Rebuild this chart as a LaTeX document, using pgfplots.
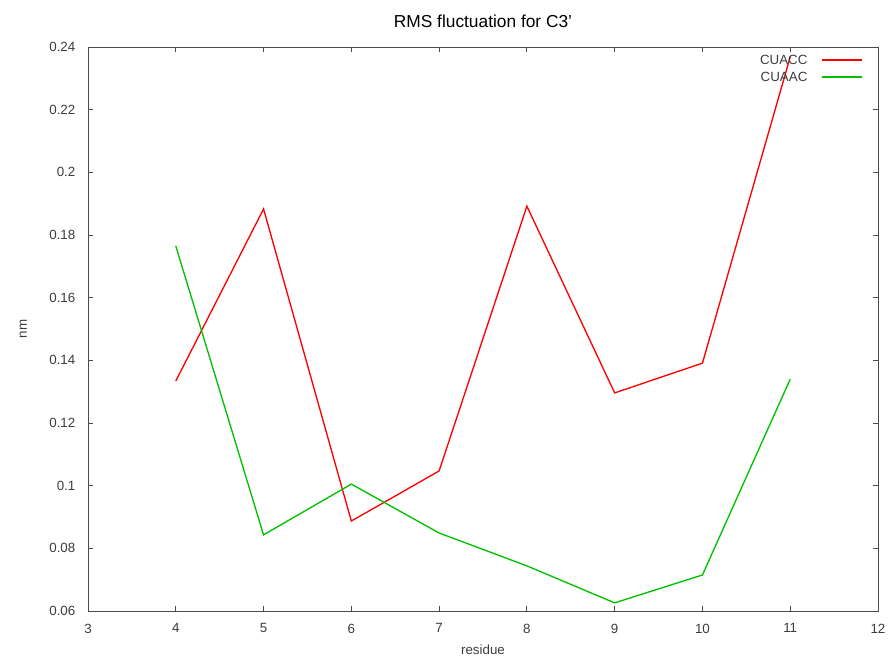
\documentclass[border=0pt]{standalone}
\usepackage{pgfplots}
\pgfplotsset{compat=1.18}
\usepackage{fontspec}
\setmainfont{Liberation Sans}
\definecolor{gpred}{RGB}{255,0,0}
\definecolor{gpgreen}{RGB}{0,192,0}
\definecolor{gptext}{RGB}{60,60,60}
\begin{document}
\begin{tikzpicture}[x=0.75pt,y=0.75pt]
\path[use as bounding box] (0,0) rectangle (889,657);
\begin{axis}[
  at={(88*0.75pt,46*0.75pt)}, anchor=south west,
  scale only axis,
  width=790*0.75pt, height=564*0.75pt,
  xmin=3, xmax=12, ymin=0.06, ymax=0.24,
  xtick={3,...,12},
  ytick={0.06,0.08,...,0.241},
  tick align=inside,
  tick style={black!70, line width=0.6pt},
  major tick length=4pt,
  axis line style={black!70, line width=0.6pt},
  yticklabel style={/pgf/number format/fixed, /pgf/number format/precision=2, xshift=-6pt},
  xticklabel style={yshift=-6pt},
  /pgf/number format/assume math mode=true,
  ticklabel style={font=\fontsize{10}{11}\selectfont, text=gptext},
  xlabel={residue}, ylabel={nm},
  xlabel style={font=\fontsize{10}{11}\selectfont, text=gptext, yshift=-2pt},
  ylabel style={font=\fontsize{10}{11}\selectfont, text=gptext, yshift=10pt},
  title={RMS fluctuation for C3'},
  title style={font=\fontsize{13}{14}\selectfont, yshift=5pt},
  clip=false,
]
\addplot[gpred, line width=1pt] coordinates {
(4,0.1334) (5,0.1883) (6,0.0887) (7,0.1047) (8,0.1892) (9,0.1296) (10,0.1391) (11,0.2368)};
\addplot[gpgreen, line width=1pt] coordinates {
(4,0.1765) (5,0.0843) (6,0.1005) (7,0.0849) (8,0.0744) (9,0.0626) (10,0.0715) (11,0.1340)};
% legend
\node[anchor=east, font=\fontsize{10}{10}\selectfont, text=gptext, inner sep=0pt] at (rel axis cs:0.911,0.977) {CUACC};
\draw[gpred, line width=1pt] (rel axis cs:0.929,0.977) -- (rel axis cs:0.980,0.977);
\node[anchor=east, font=\fontsize{10}{10}\selectfont, text=gptext, inner sep=0pt] at (rel axis cs:0.911,0.947) {CUAAC};
\draw[gpgreen, line width=1pt] (rel axis cs:0.929,0.947) -- (rel axis cs:0.980,0.947);
\end{axis}
\end{tikzpicture}
\end{document}
